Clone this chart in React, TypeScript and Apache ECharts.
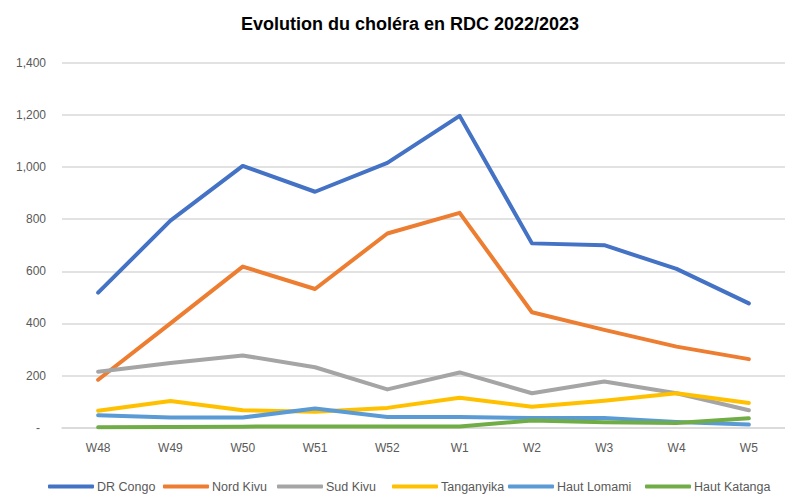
import React, { useEffect, useRef } from "react";
import * as echarts from "echarts";

const weeks = ["W48", "W49", "W50", "W51", "W52", "W1", "W2", "W3", "W4", "W5"];
const drCongo = [518, 794, 1004, 905, 1016, 1196, 707, 700, 609, 477];
const nordKivu = [184, 400, 618, 532, 745, 824, 443, 375, 311, 263];
const sudKivu = [215, 248, 277, 232, 147, 212, 132, 177, 132, 67];
const tanganyika = [65, 102, 67, 61, 76, 115, 80, 103, 132, 95];
const hautLomami = [48, 39, 39, 74, 41, 41, 37, 37, 22, 12];
const hautKatanga = [2, 3, 4, 5, 5, 5, 28, 21, 18, 36];

const seriesNames = ["DR Congo", "Nord Kivu", "Sud Kivu", "Tanganyika", "Haut Lomami", "Haut Katanga"];
const seriesData = [drCongo, nordKivu, sudKivu, tanganyika, hautLomami, hautKatanga];
const colors = ["#4472C4", "#ED7D31", "#A5A5A5", "#FFC000", "#5B9BD5", "#70AD47"];
const legendLefts = [48, 163, 277, 392, 508, 645];

const regular = "'Liberation Sans', Arial, sans-serif";

export default function App() {
  const ref = useRef<HTMLDivElement>(null);
  useEffect(() => {
    if (!ref.current) return;
    const chart = echarts.init(ref.current, undefined, { renderer: "svg" });
    chart.setOption({
      animation: false,
      backgroundColor: "#fff",
      title: {
        text: "Evolution du choléra en RDC 2022/2023",
        left: 236,
        top: 10,
        textStyle: {
          fontFamily: regular,
          fontSize: 18,
          fontWeight: "bold",
          color: "#000",
        },
      },
      grid: { left: 62, top: 62.7, width: 731, height: 365 },
      legend: seriesNames.map((name, i) => ({
        data: [name],
        left: legendLefts[i],
        top: 480,
        padding: 0,
        icon: "roundRect",
        itemWidth: 46,
        itemHeight: 4,
        textStyle: { fontFamily: regular, fontSize: 12.5, color: "#595959", padding: [0, 0, 0, -2] },
      })),
      xAxis: {
        type: "category",
        data: weeks,
        boundaryGap: true,
        axisTick: { show: false },
        axisLine: { lineStyle: { color: "#D9D9D9", width: 1.5 } },
        axisLabel: { fontFamily: regular, fontSize: 12, color: "#595959", margin: 14 },
      },
      yAxis: {
        type: "value",
        min: 0,
        max: 1400,
        interval: 200,
        axisLine: { show: false },
        axisTick: { show: false },
        splitLine: { lineStyle: { color: "#D9D9D9", width: 1.5 } },
        axisLabel: {
          fontFamily: regular,
          fontSize: 12,
          color: "#595959",
          margin: 16,
          formatter: (v: number) =>
            v === 0 ? "{d|-}" : v.toLocaleString("en-US"),
          rich: { d: { padding: [0, 6, 0, 0], fontFamily: regular, fontSize: 12, color: "#595959" } },
        },
      },
      series: seriesNames.map((name, i) => ({
        name,
        type: "line",
        data: seriesData[i],
        symbol: "none",
        color: colors[i],
        lineStyle: { width: 4, color: colors[i], cap: "round", join: "round" },
      })),
    });
    return () => chart.dispose();
  }, []);
  return (
    <div
      ref={ref}
      style={{ position: "absolute", left: 0, top: 0, width: 785, height: 496 }}
    />
  );
}
